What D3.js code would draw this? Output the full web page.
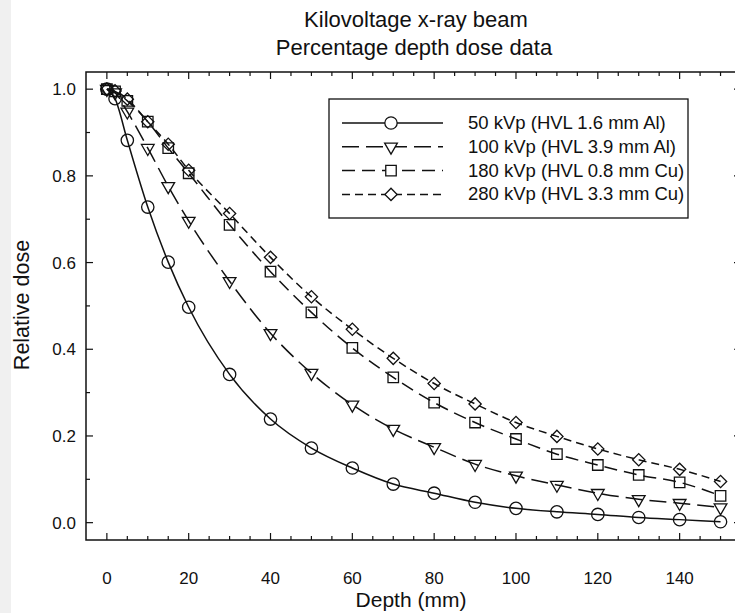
<!DOCTYPE html>
<html lang="en">
<head>
<meta charset="UTF-8">
<title>Kilovoltage x-ray beam</title>
<script src="https://cdnjs.cloudflare.com/ajax/libs/d3/7.8.5/d3.min.js"></script>
<style>
  body { margin: 0; background: #fff; }
  svg text { font-family: "Liberation Sans", Arial, sans-serif; fill: #111; }
</style>
</head>
<body>
<div id="chart"></div>
<script>
const depths = [0, 2, 5, 10, 15, 20, 30, 40, 50, 60, 70, 80, 90, 100, 110, 120, 130, 140, 150];
const kv50  = [1.0, 0.978, 0.882, 0.728, 0.601, 0.497, 0.342, 0.239, 0.172, 0.126, 0.089, 0.068, 0.047, 0.033, 0.025, 0.019, 0.012, 0.007, 0.002];
const kv100 = [1.0, 0.992, 0.948, 0.864, 0.776, 0.696, 0.557, 0.437, 0.345, 0.272, 0.216, 0.174, 0.135, 0.108, 0.087, 0.068, 0.054, 0.045, 0.035];
const kv180 = [1.0, 0.995, 0.973, 0.925, 0.864, 0.806, 0.687, 0.579, 0.485, 0.403, 0.335, 0.277, 0.231, 0.193, 0.158, 0.133, 0.110, 0.093, 0.062];
const kv280 = [1.0, 0.996, 0.977, 0.925, 0.873, 0.813, 0.713, 0.612, 0.521, 0.446, 0.379, 0.321, 0.274, 0.231, 0.199, 0.170, 0.145, 0.123, 0.095];
const seriesNames = ["50 kVp (HVL 1.6 mm Al)", "100 kVp (HVL 3.9 mm Al)", "180 kVp (HVL 0.8 mm Cu)", "280 kVp (HVL 3.3 mm Cu)"];
const xTicks = [0, 20, 40, 60, 80, 100, 120, 140];
const yTicks = [0.0, 0.2, 0.4, 0.6, 0.8, 1.0];

const width = 735, height = 613;
const plotL = 86, plotR = 741, plotT = 72, plotB = 540;

const svg = d3.select("#chart").append("svg")
  .attr("width", width).attr("height", height);

// grey strip at the left edge of the picture
svg.append("rect").attr("x", 0).attr("y", 0).attr("width", 11).attr("height", height).attr("fill", "#f0f0f0");

const x = d3.scaleLinear().domain([-5.1, 155]).range([plotL, plotR]);
const y = d3.scaleLinear().domain([-0.04, 1.0396]).range([plotB, plotT]);

// frame
svg.append("rect").attr("x", plotL).attr("y", plotT).attr("width", plotR - plotL).attr("height", plotB - plotT)
  .attr("fill", "none").attr("stroke", "#111").attr("stroke-width", 1.5);

const minorX = d3.range(0, 155, 5).filter(d => d % 20 !== 0);
const minorY = [0.1, 0.3, 0.5, 0.7, 0.9];
const tk = svg.append("g").attr("stroke", "#111").attr("stroke-width", 1.2);
xTicks.forEach(d => {
  tk.append("line").attr("x1", x(d)).attr("x2", x(d)).attr("y1", plotB).attr("y2", plotB - 7);
  tk.append("line").attr("x1", x(d)).attr("x2", x(d)).attr("y1", plotT).attr("y2", plotT + 7);
});
minorX.forEach(d => {
  tk.append("line").attr("x1", x(d)).attr("x2", x(d)).attr("y1", plotB).attr("y2", plotB - 4);
  tk.append("line").attr("x1", x(d)).attr("x2", x(d)).attr("y1", plotT).attr("y2", plotT + 4);
});
yTicks.forEach(d => {
  tk.append("line").attr("x1", plotL).attr("x2", plotL + 7).attr("y1", y(d)).attr("y2", y(d));
  tk.append("line").attr("x1", plotR).attr("x2", plotR - 7).attr("y1", y(d)).attr("y2", y(d));
});
minorY.forEach(d => {
  tk.append("line").attr("x1", plotL).attr("x2", plotL + 4).attr("y1", y(d)).attr("y2", y(d));
  tk.append("line").attr("x1", plotR).attr("x2", plotR - 4).attr("y1", y(d)).attr("y2", y(d));
});

svg.append("g").selectAll("text").data(xTicks).join("text")
  .attr("x", d => x(d)).attr("y", 584).attr("text-anchor", "middle")
  .style("font-size", "17px").text(d => d);
svg.append("g").selectAll("text").data(yTicks).join("text")
  .attr("x", 76).attr("y", d => y(d) + 6).attr("text-anchor", "end")
  .style("font-size", "17px").text(d => d.toFixed(1));

// titles
svg.append("text").attr("x", 416).attr("y", 27).attr("text-anchor", "middle").style("font-size", "22px").text("Kilovoltage x-ray beam");
svg.append("text").attr("x", 414).attr("y", 55).attr("text-anchor", "middle").style("font-size", "22px").text("Percentage depth dose data");
svg.append("text").attr("x", 411).attr("y", 607).attr("text-anchor", "middle").style("font-size", "21px").text("Depth (mm)");
svg.append("text").attr("transform", "translate(29,305) rotate(-90)").attr("text-anchor", "middle").style("font-size", "21.5px").text("Relative dose");

const allSeries = [kv50, kv100, kv180, kv280];
const dashes = [null, "17,7", "13,7", "8,5"];
const symbols = [
  { type: d3.symbolCircle, size: 120, rot: 0 },
  { type: d3.symbolTriangle, size: 70, rot: 180 },
  { type: d3.symbolSquare, size: 110, rot: 0 },
  { type: d3.symbolSquare, size: 75, rot: 45 }
];

const line = d3.line().x(d => x(d[0])).y(d => y(d[1])).curve(d3.curveMonotoneX);

allSeries.forEach((vals, i) => {
  const pts = depths.map((d, j) => [d, vals[j]]);
  svg.append("path").attr("d", line(pts)).attr("fill", "none").attr("stroke", "#111")
    .attr("stroke-width", 1.5).attr("stroke-dasharray", dashes[i]);
  const sym = d3.symbol().type(symbols[i].type).size(symbols[i].size);
  svg.append("g").selectAll("path").data(pts).join("path")
    .attr("d", sym).attr("fill", "none").attr("stroke", "#111").attr("stroke-width", 1.3)
    .attr("transform", d => `translate(${x(d[0])},${y(d[1])}) rotate(${symbols[i].rot})`);
});

// legend
const lg = svg.append("g");
lg.append("rect").attr("x", 329).attr("y", 99).attr("width", 359).attr("height", 119)
  .attr("fill", "#fff").attr("stroke", "#111").attr("stroke-width", 1.3);
seriesNames.forEach((name, i) => {
  const ly = 123 + i * 23.8;
  lg.append("line").attr("x1", 342).attr("x2", 443).attr("y1", ly).attr("y2", ly)
    .attr("stroke", "#111").attr("stroke-width", 1.5).attr("stroke-dasharray", dashes[i]);
  lg.append("path").attr("d", d3.symbol().type(symbols[i].type).size(symbols[i].size))
    .attr("transform", `translate(391,${ly}) rotate(${symbols[i].rot})`)
    .attr("fill", "#fff").attr("stroke", "#111").attr("stroke-width", 1.3);
  lg.append("text").attr("x", 468).attr("y", ly + 6).style("font-size", "18.5px").text(name);
});
</script>
</body>
</html>
